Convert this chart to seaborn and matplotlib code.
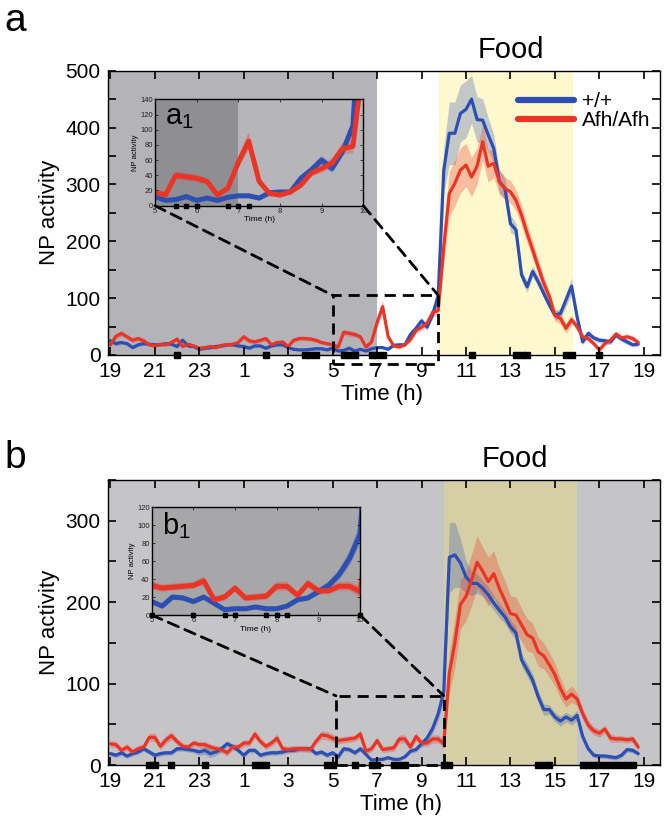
import numpy as np
import pandas as pd
import seaborn as sns
import matplotlib.pyplot as plt
from matplotlib.patches import ConnectionPatch, Rectangle
from matplotlib.ticker import MultipleLocator

# NP activity in 15 min bins, first bin at 19:00
a_wt = [25, 20, 22, 20, 13, 18, 20, 19, 18, 18, 20, 19,
        15, 26, 16, 15, 10, 12, 13, 15, 16, 18, 18, 16,
        15, 12, 16, 16, 12, 16, 18, 18,
        13, 10, 9, 9, 10, 11, 11, 9,
        12, 7, 8, 12, 7, 10, 7, 11, 13, 13, 10, 17, 18, 18, 36, 47, 60, 49, 71, 105,
        325, 390, 390, 425, 432, 450, 414, 413, 387, 363, 305, 293, 231, 220, 141, 120, 147, 129,
        108, 88, 70, 73, 97, 121, 67, 23, 38, 30, 26, 25, 23, 35, 28, 23, 18, 19]
a_mut = [18, 33, 38, 32, 26, 29, 25, 18, 16, 19, 18, 22,
         28, 15, 19, 16, 12, 13, 15, 13, 17, 18, 19, 22,
         32, 25, 23, 26, 29, 18, 22, 23,
         15, 26, 29, 29, 28, 26, 22, 20,
         18, 14, 40, 38, 36, 32, 14, 23, 57, 85, 32, 16, 14, 18, 27, 43, 49, 56, 75, 78,
         190, 284, 302, 325, 334, 313, 332, 375, 332, 337, 305, 293, 287, 272, 246, 214, 185, 155,
         126, 103, 70, 64, 47, 62, 50, 32, 29, 20, 9, 20, 26, 37, 30, 32, 29, 22]
a_wt_sem = [4, 4, 3, 3, 3, 3, 3, 3, 3, 3, 3, 3,
            3, 4, 3, 3, 3, 3, 3, 3, 3, 3, 3, 3,
            3, 3, 3, 3, 3, 3, 3, 3, 3, 2, 2, 2,
            2, 2, 2, 2, 3, 2, 2, 2, 2, 2, 2, 2,
            2, 2, 2, 3, 3, 3, 4, 5, 6, 6, 7, 10,
            40, 55, 55, 50, 50, 42, 40, 38, 30, 25, 20, 18,
            15, 12, 10, 10, 10, 9, 8, 8, 8, 9, 12, 14,
            8, 5, 6, 5, 5, 5, 5, 5, 5, 5, 4, 4]
a_mut_sem = [4, 5, 5, 4, 4, 4, 4, 3, 3, 3, 3, 3,
             4, 3, 3, 3, 3, 3, 3, 3, 3, 3, 3, 3,
             5, 4, 4, 4, 4, 3, 3, 3, 3, 4, 4, 4,
             4, 4, 3, 3, 3, 3, 5, 5, 5, 4, 3, 4,
             8, 12, 5, 3, 3, 3, 4, 5, 6, 6, 8, 9,
             30, 40, 40, 40, 38, 35, 32, 32, 28, 25, 22, 20,
             20, 18, 18, 16, 15, 14, 12, 10, 10, 10, 9, 8,
             6, 5, 5, 4, 4, 4, 4, 5, 5, 5, 5, 4]

b_wt = [14, 12, 15, 11, 14, 16, 20, 16, 12, 14, 15, 15,
        20, 20, 19, 18, 16, 18, 14, 16, 20, 26, 23, 18,
        12, 18, 18, 12, 14, 15, 15, 16, 18, 18,
        20, 20, 20, 14, 16, 12,
        15, 10, 20, 19, 15, 20, 13, 6, 7, 7, 9, 7, 7, 10, 17, 19, 26, 33, 45, 63, 90,
        255, 258, 248, 231, 223, 223, 217, 209, 199, 190, 182, 170, 162, 129, 117, 104, 84, 68,
        68, 59, 54, 59, 55, 61, 35, 20, 12, 11, 11, 10, 9, 12, 19, 18, 14]
b_mut = [26, 25, 18, 22, 16, 20, 22, 34, 34, 23, 31, 36,
         29, 23, 22, 27, 25, 25, 22, 20, 19, 15, 22, 22,
         27, 27, 38, 29, 23, 27, 33, 20, 19, 20,
         20, 20, 19, 29, 37, 36,
         33, 30, 31, 32, 33, 38, 17, 20, 30, 19, 20, 21, 32, 32, 22, 35, 27, 27, 32, 32, 26,
         113, 150, 197, 207, 227, 249, 238, 225, 235, 217, 202, 186, 184, 172, 160, 156, 139, 134,
         123, 111, 94, 81, 87, 81, 63, 49, 42, 39, 44, 33, 32, 32, 31, 32, 22]
b_wt_sem = [3, 3, 3, 3, 3, 3, 3, 3, 3, 3, 3, 3,
            3, 3, 3, 3, 4, 5, 5, 4, 4, 4, 3, 3,
            3, 3, 3, 3, 3, 3, 3, 3, 3, 3, 3, 3,
            3, 3, 3, 3, 3, 3, 3, 3, 3, 3, 2, 2,
            2, 2, 2, 2, 2, 2, 3, 3, 4, 5, 6, 8,
            12, 43, 40, 30, 20, 15, 12, 10, 10, 9, 9, 8,
            8, 8, 8, 8, 8, 7, 7, 6, 6, 6, 6, 6,
            6, 4, 3, 3, 3, 3, 3, 3, 3, 3, 3, 3]
b_mut_sem = [4, 4, 4, 4, 4, 4, 4, 5, 5, 4, 5, 5,
             4, 4, 4, 4, 4, 4, 4, 4, 4, 4, 4, 4,
             4, 4, 5, 4, 4, 4, 5, 4, 4, 4, 4, 4,
             4, 4, 5, 5, 5, 4, 4, 4, 4, 5, 4, 4,
             4, 4, 4, 4, 5, 5, 4, 5, 4, 4, 5, 5,
             6, 25, 30, 30, 30, 32, 32, 30, 30, 28, 25, 25,
             22, 22, 20, 20, 18, 18, 16, 15, 14, 12, 10, 10,
             8, 7, 6, 5, 5, 5, 5, 4, 4, 4, 4, 4]

# significant bins (hours after 19:00)
sig_a = [3.0, 7.0, 8.75, 9.0, 9.25, 10.5, 10.75, 11.0, 11.75, 12.0, 12.25,
         16.25, 18.25, 18.5, 18.75, 20.5, 20.75, 22.0]
sig_b = [1.75, 2.0, 2.75, 4.25, 6.5, 6.75, 7.0, 9.75, 10.0, 11.0, 11.75, 12.0,
         12.75, 13.0, 13.25, 15.0, 15.25, 19.25, 19.5, 19.75, 21.25, 21.5, 21.75,
         22.0, 22.25, 22.5, 22.75, 23.0, 23.25, 23.5]

hour_labels = ['19', '21', '23', '1', '3', '5', '7', '9', '11', '13', '15', '17', '19']
genotypes = ['+/+', 'Afh/Afh']

sns.set_style("ticks")
plt.rcParams['font.family'] = ['Liberation Sans', 'DejaVu Sans']
plt.rcParams['mathtext.default'] = 'regular'
plt.rcParams['axes.linewidth'] = 1.0
plt.rcParams['axes.axisbelow'] = False
for key in ('text.color', 'axes.labelcolor', 'xtick.color', 'ytick.color', 'axes.edgecolor'):
    plt.rcParams[key] = 'black'

BLUE = '#2c4fb3'
RED = '#ea3526'
BIN = 0.25
DASH = (0, (4, 2.5))


def long_df(wt, mut, shift):
    t = np.arange(len(wt)) * BIN - shift
    return pd.DataFrame({'t': np.r_[t, t], 'np': np.r_[wt, mut],
                         'geno': [genotypes[0]] * len(wt) + [genotypes[1]] * len(mut)})


def draw_lines(ax, wt, mut, wt_sem, mut_sem, lw, shift=0.0, legend=False):
    t = np.arange(len(wt)) * BIN - shift
    for m, s, c, a in ((wt, wt_sem, BLUE, 0.28), (mut, mut_sem, RED, 0.3)):
        m = np.asarray(m, float)
        s = np.asarray(s, float)
        ax.fill_between(t, m - s, m + s, color=c, alpha=a, lw=0, zorder=1)
    sns.lineplot(data=long_df(wt, mut, shift), x='t', y='np', hue='geno',
                 palette=[BLUE, RED], lw=lw, errorbar=None, ax=ax, legend=legend)


def main_panel(ax, wt, mut, wt_sem, mut_sem, sig, ymax, legend=False):
    ax.set_axisbelow(False)
    draw_lines(ax, wt, mut, wt_sem, mut_sem, 2.3, legend=legend)
    ax.plot(sig, np.zeros(len(sig)), 's', color='k', ms=5, clip_on=False, zorder=6)
    ax.set_xlim(-0.12, 24.75)
    ax.set_ylim(0, ymax)
    ax.set_xticks(np.arange(0, 25, 2))
    ax.set_xticklabels(hour_labels)
    ax.yaxis.set_major_locator(MultipleLocator(100))
    ax.yaxis.set_minor_locator(MultipleLocator(50))
    ax.tick_params(which='both', direction='in', top=True, right=True,
                   length=5.5, width=1.2, labelsize=15, pad=5, color='k')
    ax.set_ylabel('NP activity', fontsize=16, labelpad=4)


def inset_panel(rect, wt, mut, wt_sem, mut_sem, sig, ymax, bg, label):
    axi = fig.add_axes(rect)
    axi.set_facecolor(bg)
    axi.set_axisbelow(False)
    draw_lines(axi, wt, mut, wt_sem, mut_sem, 3.6, shift=5)
    s = [h - 5 for h in sig if 10 <= h <= 15]
    axi.plot(s, np.zeros(len(s)), 's', color='k', ms=2.2, clip_on=False, zorder=6)
    axi.set_xlim(5, 10)
    axi.set_ylim(0, ymax)
    axi.set_xticks(range(5, 11))
    axi.yaxis.set_major_locator(MultipleLocator(20))
    axi.tick_params(direction='in', top=True, right=True, length=2, width=0.6,
                    labelsize=5.5, pad=1.5, colors='#222222')
    axi.set_xlabel('Time (h)', fontsize=6, labelpad=1)
    axi.set_ylabel('NP activity', fontsize=5.5, labelpad=1)
    axi.text(0.05, 0.97, label, transform=axi.transAxes, fontsize=21, va='top')
    return axi


def zoom_box(ax, axi, x0, x1, y0, y1):
    ax.add_patch(Rectangle((x0, y0), x1 - x0, y1 - y0, fill=False, ec='k', lw=2,
                           ls=DASH, clip_on=False, zorder=7))
    for xi, xm in ((5, x0), (10, x1)):
        fig.add_artist(ConnectionPatch(xyA=(xi, 0), coordsA=axi.transData,
                                       xyB=(xm, y1), coordsB=ax.transData,
                                       ls=DASH, lw=2, color='k', zorder=7))


fig = plt.figure(figsize=(6.66, 8.25), dpi=100)
ax_a = fig.add_axes([0.1617, 0.5697, 0.830, 0.3446])
ax_b = fig.add_axes([0.1617, 0.0727, 0.830, 0.3455])

# panel a
ax_a.axvspan(-1, 12, color='#b4b3b8', lw=0, zorder=0)
ax_a.axvspan(14.8, 20.8, color='#fef8cf', lw=0, zorder=0)
main_panel(ax_a, a_wt, a_mut, a_wt_sem, a_mut_sem, sig_a, 500, legend=True)
ax_a.set_xlabel('Time (h)', fontsize=16, labelpad=2, x=0.496)
old = ax_a.get_legend()
handles = old.legend_handles
labels = [t.get_text() for t in old.get_texts()]
leg = ax_a.legend(handles, labels, loc='upper left', bbox_to_anchor=(0.742, 0.925),
                  frameon=False, fontsize=15, handlelength=2.7, handletextpad=0.4,
                  labelspacing=0.0, borderpad=0, borderaxespad=0)
for line in leg.get_lines():
    line.set_linewidth(4.5)
ax_a.text(18.0, 500 * 1.025, 'Food', ha='center', va='bottom', fontsize=21)

ins_a = inset_panel([0.2327, 0.7507, 0.3128, 0.1289], a_wt, a_mut, a_wt_sem, a_mut_sem,
                    sig_a, 140, '#b6b5ba', r'$a_1$')
ins_a.axvspan(5, 7, color='#8f8e93', lw=0, zorder=0)
zoom_box(ax_a, ins_a, 10, 14.75, -16, 105)

# panel b
ax_b.set_facecolor('#c5c4c6')
ax_b.axvspan(15, 21, color='#d6cfa5', lw=0, zorder=0)
main_panel(ax_b, b_wt, b_mut, b_wt_sem, b_mut_sem, sig_b, 350)
ax_b.set_xlabel('Time (h)', fontsize=16, labelpad=2, x=0.53)
ax_b.text(18.2, 350 * 1.025, 'Food', ha='center', va='bottom', fontsize=21)

ins_b = inset_panel([0.2278, 0.2545, 0.3127, 0.1306], b_wt, b_mut, b_wt_sem, b_mut_sem,
                    sig_b, 120, '#a7a6a9', r'$b_1$')
zoom_box(ax_b, ins_b, 10.15, 15, 0, 85)

fig.text(0.006, 0.962, 'a', fontsize=28)
fig.text(0.006, 0.433, 'b', fontsize=28)

fig.savefig('out.png', dpi=100)
